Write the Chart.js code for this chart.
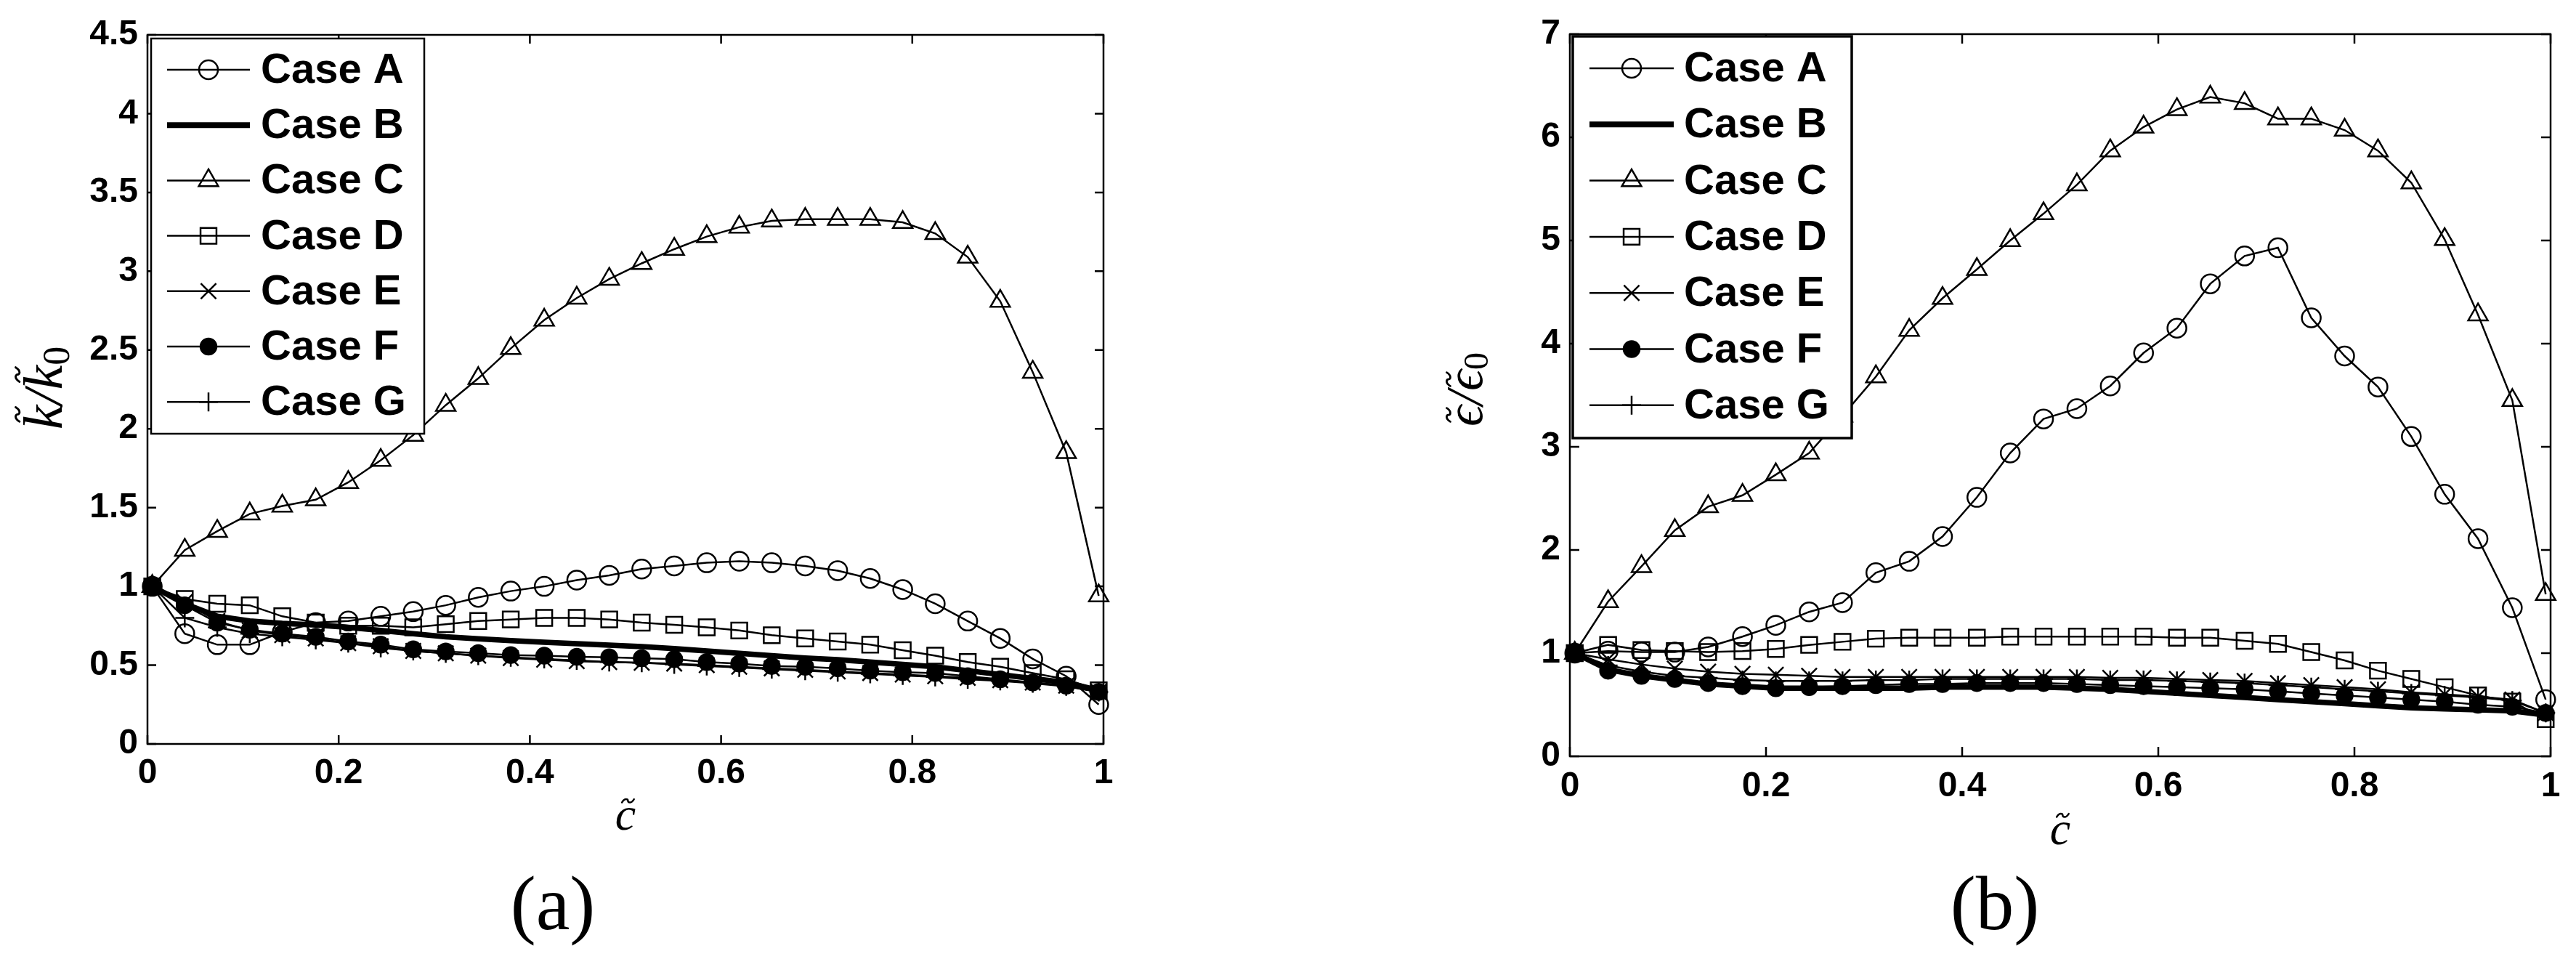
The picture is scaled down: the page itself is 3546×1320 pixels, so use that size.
<!DOCTYPE html>
<html>
<head>
<meta charset="utf-8">
<script src="https://cdn.jsdelivr.net/npm/chart.js@4.4.1/dist/chart.umd.min.js"></script>
<style>
html, body { margin: 0; padding: 0; background: #fff; }
#wrap { position: relative; width: 3546px; height: 1320px; overflow: hidden; background: #fff; }
canvas { position: absolute; top: 0; }
</style>
</head>
<body>
<div id="wrap">
  <canvas id="chartK" width="1773" height="1320" style="left:0px"></canvas>
  <canvas id="chartE" width="1773" height="1320" style="left:1773px"></canvas>
</div>
<script>
// progress variable c~ (same for every case)
const cTilde = [0.005, 0.039, 0.073, 0.107, 0.141, 0.176, 0.210, 0.244, 0.278, 0.312,
                0.346, 0.380, 0.415, 0.449, 0.483, 0.517, 0.551, 0.585, 0.619, 0.653,
                0.688, 0.722, 0.756, 0.790, 0.824, 0.858, 0.892, 0.926, 0.961, 0.995];

const caseNames = ['Case A', 'Case B', 'Case C', 'Case D', 'Case E', 'Case F', 'Case G'];

// (a) k~/k~0
const kCaseA = [1.00, 0.70, 0.63, 0.63, 0.71, 0.77, 0.78, 0.81, 0.84, 0.88, 0.93, 0.97, 1.00, 1.04, 1.07,
                1.11, 1.13, 1.15, 1.16, 1.15, 1.13, 1.10, 1.05, 0.98, 0.89, 0.78, 0.67, 0.54, 0.43, 0.25];
const kCaseB = [1.00, 0.89, 0.81, 0.78, 0.765, 0.755, 0.74, 0.72, 0.70, 0.68, 0.667, 0.656, 0.646, 0.636, 0.627,
                0.618, 0.605, 0.59, 0.575, 0.56, 0.545, 0.535, 0.52, 0.505, 0.49, 0.465, 0.44, 0.415, 0.39, 0.34];
const kCaseC = [1.00, 1.23, 1.35, 1.46, 1.51, 1.55, 1.66, 1.80, 1.96, 2.15, 2.32, 2.51, 2.69, 2.83, 2.95,
                3.05, 3.14, 3.22, 3.28, 3.32, 3.33, 3.33, 3.33, 3.31, 3.24, 3.09, 2.81, 2.36, 1.85, 0.94];
const kCaseD = [1.00, 0.92, 0.89, 0.88, 0.81, 0.77, 0.75, 0.75, 0.74, 0.76, 0.78, 0.79, 0.80, 0.80, 0.79,
                0.77, 0.756, 0.74, 0.72, 0.69, 0.67, 0.65, 0.63, 0.595, 0.56, 0.52, 0.49, 0.45, 0.41, 0.34];
const kCaseE = [1.00, 0.90, 0.78, 0.72, 0.69, 0.67, 0.64, 0.62, 0.59, 0.575, 0.56, 0.545, 0.535, 0.525, 0.52,
                0.515, 0.51, 0.50, 0.49, 0.48, 0.47, 0.46, 0.45, 0.44, 0.43, 0.42, 0.405, 0.39, 0.37, 0.33];
const kCaseF = [1.00, 0.88, 0.77, 0.725, 0.70, 0.68, 0.65, 0.63, 0.60, 0.587, 0.576, 0.564, 0.56, 0.553, 0.55,
                0.544, 0.538, 0.52, 0.51, 0.495, 0.49, 0.48, 0.465, 0.455, 0.45, 0.43, 0.41, 0.39, 0.37, 0.33];
const kCaseG = [1.00, 0.80, 0.74, 0.70, 0.68, 0.66, 0.64, 0.61, 0.59, 0.575, 0.56, 0.55, 0.54, 0.53, 0.52,
                0.515, 0.505, 0.495, 0.485, 0.475, 0.465, 0.455, 0.445, 0.435, 0.425, 0.41, 0.40, 0.385, 0.365, 0.33];

// (b) eps~/eps~0
const eCaseA = [1.00, 1.02, 1.01, 1.01, 1.06, 1.16, 1.27, 1.40, 1.49, 1.78, 1.89, 2.13, 2.51, 2.94, 3.27,
                3.37, 3.59, 3.91, 4.15, 4.58, 4.85, 4.93, 4.25, 3.88, 3.58, 3.10, 2.54, 2.11, 1.44, 0.55];
const eCaseB = [1.00, 0.84, 0.78, 0.74, 0.70, 0.68, 0.66, 0.66, 0.66, 0.66, 0.66, 0.67, 0.67, 0.67, 0.67,
                0.66, 0.65, 0.63, 0.61, 0.59, 0.57, 0.55, 0.53, 0.51, 0.49, 0.47, 0.46, 0.45, 0.44, 0.40];
const eCaseC = [1.00, 1.50, 1.84, 2.19, 2.42, 2.53, 2.73, 2.94, 3.30, 3.68, 4.13, 4.44, 4.72, 5.00, 5.26,
                5.54, 5.87, 6.10, 6.27, 6.39, 6.33, 6.18, 6.18, 6.07, 5.87, 5.56, 5.01, 4.28, 3.45, 1.57];
const eCaseD = [1.00, 1.08, 1.03, 1.02, 1.01, 1.02, 1.04, 1.08, 1.11, 1.14, 1.15, 1.15, 1.15, 1.16, 1.16,
                1.16, 1.16, 1.16, 1.15, 1.15, 1.12, 1.09, 1.01, 0.93, 0.83, 0.75, 0.67, 0.59, 0.53, 0.36];
const eCaseE = [1.00, 0.94, 0.89, 0.85, 0.82, 0.80, 0.79, 0.78, 0.77, 0.77, 0.77, 0.77, 0.77, 0.77, 0.77,
                0.77, 0.76, 0.76, 0.75, 0.74, 0.73, 0.71, 0.69, 0.67, 0.65, 0.62, 0.60, 0.58, 0.55, 0.42];
const eCaseF = [1.00, 0.83, 0.78, 0.75, 0.71, 0.68, 0.66, 0.67, 0.68, 0.69, 0.70, 0.70, 0.71, 0.71, 0.71,
                0.70, 0.69, 0.68, 0.67, 0.66, 0.65, 0.63, 0.61, 0.59, 0.57, 0.55, 0.53, 0.50, 0.48, 0.42];
const eCaseG = [1.00, 0.88, 0.82, 0.78, 0.76, 0.74, 0.73, 0.73, 0.73, 0.74, 0.74, 0.75, 0.75, 0.75, 0.75,
                0.75, 0.74, 0.74, 0.73, 0.72, 0.71, 0.69, 0.67, 0.65, 0.63, 0.61, 0.59, 0.57, 0.54, 0.42];

// tick values and their labels
const xTicks = [0, 0.2, 0.4, 0.6, 0.8, 1];
const xTickLabels = ['0', '0.2', '0.4', '0.6', '0.8', '1'];
const kTicks = [0, 0.5, 1, 1.5, 2, 2.5, 3, 3.5, 4, 4.5];
const kTickLabels = ['0', '0.5', '1', '1.5', '2', '2.5', '3', '3.5', '4', '4.5'];
const eTicks = [0, 1, 2, 3, 4, 5, 6, 7];
const eTickLabels = ['0', '1', '2', '3', '4', '5', '6', '7'];

// line / marker look of each case (matlab-ish)
const caseStyle = [
  { marker: 'circle',   r: 13,   filled: false, line: 2.5 },
  { marker: null,       r: 0,    filled: false, line: 7.5 },
  { marker: 'triangle', r: 15.5, filled: false, line: 2.5 },
  { marker: 'rect',     r: 15.5, filled: false, line: 2.5 },
  { marker: 'crossRot', r: 15,   filled: false, line: 2.5 },
  { marker: 'circle',   r: 11,   filled: true,  line: 2.5 },
  { marker: 'cross',    r: 13,   filled: false, line: 2.5 }
];

const SANS = '"Liberation Sans", Arial, Helvetica, sans-serif';
const SERIF = '"Liberation Serif", "DejaVu Serif", "Times New Roman", serif';

function drawMarker(ctx, style, r, x, y, filled) {
  ctx.beginPath();
  if (style == 'circle') {
    ctx.arc(x, y, r, 0, Math.PI * 2);
  } else if (style == 'triangle') {
    ctx.moveTo(x, y - r);
    ctx.lineTo(x + r * 0.866, y + r * 0.5);
    ctx.lineTo(x - r * 0.866, y + r * 0.5);
    ctx.closePath();
  } else if (style == 'rect') {
    var s = r * Math.SQRT1_2;
    ctx.rect(x - s, y - s, 2 * s, 2 * s);
  } else if (style == 'crossRot') {
    var d = r * Math.SQRT1_2;
    ctx.moveTo(x - d, y - d); ctx.lineTo(x + d, y + d);
    ctx.moveTo(x - d, y + d); ctx.lineTo(x + d, y - d);
  } else if (style == 'cross') {
    ctx.moveTo(x, y - r); ctx.lineTo(x, y + r);
    ctx.moveTo(x - r, y); ctx.lineTo(x + r, y);
  }
  if (filled) ctx.fill();
  ctx.stroke();
}

// small wave used as the tilde accent
function drawTilde(ctx, cx, cy, w, h) {
  ctx.save();
  ctx.lineWidth = Math.max(2, h * 0.55);
  ctx.lineCap = 'round';
  ctx.beginPath();
  ctx.moveTo(cx - w / 2, cy + h / 2);
  ctx.bezierCurveTo(cx - w / 4, cy - h, cx, cy - h / 2, cx, cy);
  ctx.bezierCurveTo(cx, cy + h / 2, cx + w / 4, cy + h, cx + w / 2, cy - h / 2);
  ctx.stroke();
  ctx.restore();
}

// draws e.g. k~/k~ with subscript 0, centred on (0,0) along the baseline
function drawMathLabel(ctx, parts, size, sub, subSize, subDrop) {
  var italic = 'italic ' + size + 'px ' + SERIF;
  var upright = subSize + 'px ' + SERIF;
  ctx.font = italic;
  var widths = parts.map(function (p) { return ctx.measureText(p.t).width; });
  var total = widths.reduce(function (s, w) { return s + w; }, 0);
  ctx.font = upright;
  var wSub = sub ? ctx.measureText(sub).width : 0;
  var x = -(total + wSub) / 2;
  ctx.textAlign = 'left';
  ctx.textBaseline = 'alphabetic';
  parts.forEach(function (p, i) {
    ctx.font = italic;
    ctx.fillText(p.t, x, 0);
    if (p.tilde) {
      drawTilde(ctx, x + widths[i] * p.shift, -size * p.tilde, size * 0.26, size * 0.07);
    }
    x += widths[i];
  });
  if (sub) {
    ctx.font = upright;
    ctx.fillText(sub, x, subDrop);
  }
}

// box, inward ticks on all four sides, labels and the boxed legend
const matlabFrame = {
  id: 'matlabFrame',
  afterDraw(chart, args, o) {
    const ctx = chart.ctx;
    const a = chart.chartArea;
    const sx = chart.scales.x, sy = chart.scales.y;
    ctx.save();
    ctx.strokeStyle = '#000';
    ctx.fillStyle = '#000';
    ctx.lineWidth = 2.5;
    ctx.strokeRect(a.left, a.top, a.right - a.left, a.bottom - a.top);
    ctx.beginPath();
    sx.ticks.forEach(function (t) {
      var px = sx.getPixelForValue(t.value);
      ctx.moveTo(px, a.bottom); ctx.lineTo(px, a.bottom - o.tick);
      ctx.moveTo(px, a.top); ctx.lineTo(px, a.top + o.tick);
    });
    sy.ticks.forEach(function (t) {
      var py = sy.getPixelForValue(t.value);
      ctx.moveTo(a.left, py); ctx.lineTo(a.left + o.tick, py);
      ctx.moveTo(a.right, py); ctx.lineTo(a.right - o.tick, py);
    });
    ctx.stroke();

    // x label
    ctx.save();
    ctx.translate((a.left + a.right) / 2, o.xlabelY);
    drawMathLabel(ctx, [{ t: 'c', tilde: 0.62, shift: 0.62 }], 64, null, 0, 0);
    ctx.restore();

    // panel label
    ctx.textAlign = 'center';
    ctx.textBaseline = 'alphabetic';
    ctx.font = '105px ' + SERIF;
    ctx.fillText(o.panel, o.panelX, o.panelY);

    // y label, rotated
    ctx.save();
    ctx.translate(o.ylabelX, o.ylabelY);
    ctx.rotate(-Math.PI / 2);
    drawMathLabel(ctx, o.ylabel, o.ylabelSize, '0', o.subSize, o.subDrop);
    ctx.restore();

    // legend
    var L = o.legend;
    ctx.fillStyle = '#fff';
    ctx.fillRect(L.left, L.top, L.width, L.height);
    ctx.lineWidth = L.border;
    ctx.strokeStyle = '#000';
    ctx.strokeRect(L.left, L.top, L.width, L.height);
    chart.data.datasets.forEach(function (ds, i) {
      var st = caseStyle[i];
      var y = L.top + L.first + i * L.gap;
      ctx.lineWidth = st.line + (st.marker ? 0 : 0.5);
      ctx.beginPath();
      ctx.moveTo(L.left + L.lineX1, y);
      ctx.lineTo(L.left + L.lineX2, y);
      ctx.stroke();
      if (st.marker) {
        ctx.lineWidth = 2.5;
        ctx.fillStyle = '#000';
        drawMarker(ctx, st.marker, st.r, L.left + (L.lineX1 + L.lineX2) / 2, y, st.filled);
      }
      ctx.fillStyle = '#000';
      ctx.font = 'bold 58px ' + SANS;
      ctx.textAlign = 'left';
      ctx.textBaseline = 'middle';
      ctx.fillText(ds.label, L.left + L.textX, y + 2);
    });
    ctx.restore();
  }
};

function buildDatasets(seriesList) {
  return seriesList.map(function (vals, i) {
    var st = caseStyle[i];
    return {
      label: caseNames[i],
      data: vals.map(function (v, j) { return { x: cTilde[j], y: v }; }),
      borderColor: '#000',
      borderWidth: st.line,
      pointStyle: st.marker || 'circle',
      pointRadius: st.marker ? st.r : 0,
      pointBorderWidth: 2.5,
      pointBorderColor: '#000',
      pointBackgroundColor: st.filled ? '#000' : 'rgba(0,0,0,0)',
      fill: false,
      tension: 0,
      clip: false
    };
  });
}

function makeChart(id, series, yTicks, yLabels, yMax, lay, frame) {
  var tickFont = { family: SANS, size: 48, weight: 'bold' };
  return new Chart(document.getElementById(id), {
    type: 'line',
    data: { datasets: buildDatasets(series) },
    plugins: [matlabFrame],
    options: {
      responsive: false,
      animation: false,
      devicePixelRatio: 1,
      events: [],
      layout: { padding: { left: 0, right: lay.right, top: lay.top, bottom: 0 } },
      plugins: {
        legend: { display: false },
        tooltip: { enabled: false },
        matlabFrame: frame
      },
      scales: {
        x: {
          type: 'linear', min: 0, max: 1,
          afterBuildTicks: function (s) { s.ticks = xTicks.map(function (v) { return { value: v }; }); },
          afterFit: function (s) { s.height = lay.xHeight; },
          ticks: { color: '#000', font: tickFont, padding: lay.xPad, maxRotation: 0, autoSkip: false,
                   callback: function (v, i) { return xTickLabels[i]; } },
          grid: { display: false, drawTicks: false },
          border: { display: false }
        },
        y: {
          type: 'linear', min: 0, max: yMax,
          afterBuildTicks: function (s) { s.ticks = yTicks.map(function (v) { return { value: v }; }); },
          afterFit: function (s) { s.width = lay.yWidth; },
          ticks: { color: '#000', font: tickFont, padding: 13, autoSkip: false,
                   callback: function (v, i) { return yLabels[i]; } },
          grid: { display: false, drawTicks: false },
          border: { display: false }
        }
      }
    }
  });
}

makeChart('chartK',
  [kCaseA, kCaseB, kCaseC, kCaseD, kCaseE, kCaseF, kCaseG], kTicks, kTickLabels, 4.5,
  { right: 254, top: 48, xHeight: 296, yWidth: 203, xPad: 12 },
  { tick: 12, xlabelY: 1142, panel: '(a)', panelX: 761, panelY: 1279,
    ylabel: [{ t: 'k', tilde: 0.80, shift: 0.62 }, { t: '/' }, { t: 'k', tilde: 0.80, shift: 0.62 }],
    ylabelX: 85, ylabelY: 534, ylabelSize: 76, subSize: 52, subDrop: 10,
    legend: { left: 208, top: 53, width: 376, height: 544, first: 43, gap: 76.2,
              lineX1: 22, lineX2: 136, textX: 151, border: 2.5 } });

makeChart('chartE',
  [eCaseA, eCaseB, eCaseC, eCaseD, eCaseE, eCaseF, eCaseG], eTicks, eTickLabels, 7,
  { right: 35, top: 47, xHeight: 279, yWidth: 388, xPad: 13 },
  { tick: 13, xlabelY: 1162, panel: '(b)', panelX: 973, panelY: 1279,
    ylabel: [{ t: '\u03f5', tilde: 0.64, shift: 0.55 }, { t: '/' }, { t: '\u03f5', tilde: 0.64, shift: 0.55 }],
    ylabelX: 267, ylabelY: 536, ylabelSize: 72, subSize: 48, subDrop: 8,
    legend: { left: 392, top: 50, width: 384, height: 553, first: 44, gap: 77.3,
              lineX1: 23, lineX2: 139, textX: 153, border: 3.5 } });
</script>
</body>
</html>
